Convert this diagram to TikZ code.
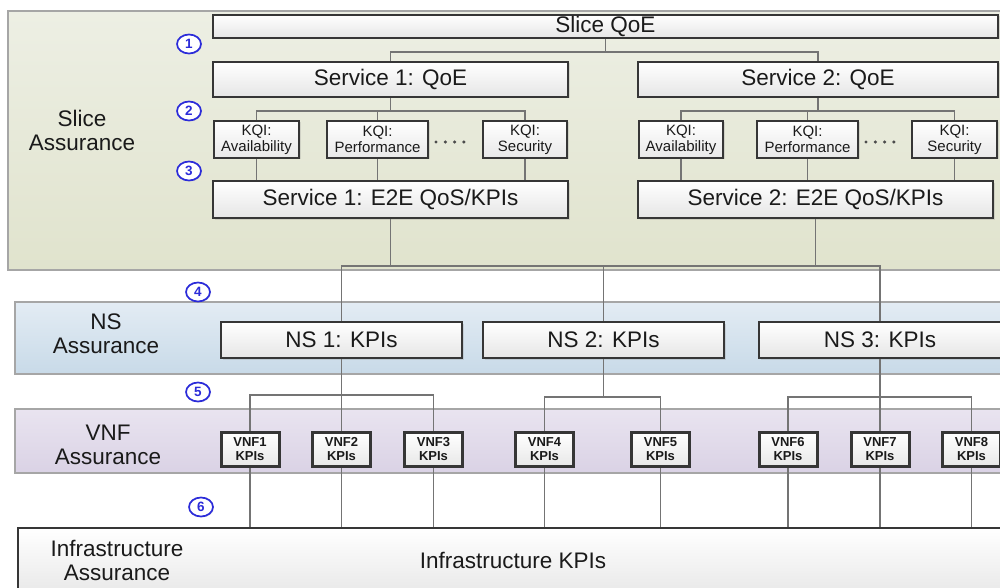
\documentclass[tikz,border=0pt]{standalone}
\usepackage{fontspec}
\setmainfont{Liberation Sans}
\usetikzlibrary{shadows,shapes.geometric}
\definecolor{boxline}{HTML}{363636}
\definecolor{connc}{HTML}{747474}
\definecolor{slicetop}{HTML}{EDEFE4}
\definecolor{slicebot}{HTML}{E0E3CD}
\definecolor{nstop}{HTML}{E3ECF4}
\definecolor{nsbot}{HTML}{C8DAE8}
\definecolor{vnftop}{HTML}{E9E4F0}
\definecolor{vnfbot}{HTML}{DAD2E5}
\definecolor{numblue}{HTML}{2B2BD9}
\definecolor{txt}{HTML}{1A1A1A}
\pgfdeclarelayer{bg}
\pgfdeclarelayer{mid}
\pgfsetlayers{bg,mid,main}
\tikzset{
  shad/.style={drop shadow={opacity=0.22,shadow xshift=1.5pt,shadow yshift=-1.5pt}},
  box/.style={draw=boxline, line width=2.9pt, top color=white, bottom color=black!10,
    inner sep=0pt, text=txt, font=\fontsize{22.5}{24}\selectfont, shad},
  kqi/.style={draw=boxline, line width=2.1pt, top color=white, bottom color=black!9,
    inner sep=0pt, text=txt, align=center, font=\fontsize{15}{16}\selectfont,
    minimum height=37pt, shad},
  vnfbox/.style={draw=boxline, line width=3pt, top color=white, bottom color=black!9,
    inner sep=0pt, text=txt, align=center, font=\bfseries\fontsize{13}{13.5}\selectfont,
    minimum width=58pt, minimum height=34pt, shad},
  panel/.style={draw=black!35, line width=1.6pt},
  conn/.style={draw=connc, line width=1.8pt},
  num/.style={ellipse, draw=numblue, line width=1.7pt, fill=white, inner sep=0pt,
    minimum width=24pt, minimum height=19pt, text=numblue,
    font=\bfseries\fontsize{13.5}{13.5}\selectfont, drop shadow={opacity=0.15,shadow xshift=1pt,shadow yshift=-1pt}},
  lbl/.style={align=center, text=txt, font=\fontsize{22.5}{24}\selectfont},
}
\begin{document}
\begin{tikzpicture}[x=1pt,y=-1pt]
\useasboundingbox (0,0) rectangle (1000,588);

% background and panels
\begin{pgfonlayer}{bg}
\fill[white] (0,0) rectangle (1000,588);
\path[panel, top color=slicetop, bottom color=slicebot] (8,11) rectangle (1012,270);
\path[panel, top color=nstop, bottom color=nsbot] (15,302) rectangle (1012,374);
\path[panel, top color=vnftop, bottom color=vnfbot] (15,409) rectangle (1012,473);
\end{pgfonlayer}

% layer labels
\node[lbl] (lslice) at (82,130) {Slice\\Assurance};
\node[lbl] (lns) at (106,334) {NS\\Assurance};
\node[lbl] (lvnf) at (108,445) {VNF\\Assurance};

% slice level boxes
\node[box, minimum width=785pt, minimum height=23pt] (sq) at (605.5,26.5) {Slice QoE};
\node[box, minimum width=355pt, minimum height=35pt] (s1q) at (390.5,79.5) {Service 1: QoE};
\node[box, minimum width=360pt, minimum height=35pt] (s2q) at (818,79.5) {Service 2: QoE};

\node[kqi, minimum width=85pt] (k1a) at (256.5,139.5) {KQI:\\Availability};
\node[kqi, minimum width=101pt] (k1p) at (377.5,139.5) {KQI:\\Performance};
\node[kqi, minimum width=84pt] (k1s) at (525,139.5) {KQI:\\Security};
\node[kqi, minimum width=84pt] (k2a) at (681,139.5) {KQI:\\Availability};
\node[kqi, minimum width=101pt] (k2p) at (807.5,139.5) {KQI:\\Performance};
\node[kqi, minimum width=85pt] (k2s) at (954.5,139.5) {KQI:\\Security};

\node[box, minimum width=355pt, minimum height=37pt] (e1) at (390.5,199.5) {Service 1: E2E QoS/KPIs};
\node[box, minimum width=355pt, minimum height=37pt] (e2) at (815.5,199.5) {Service 2: E2E QoS/KPIs};

% dots
\foreach \i in {0,...,3} {
  \fill[black!70] (436+9.3*\i,142) circle (1.7);
  \fill[black!70] (866+9.3*\i,142) circle (1.7);
}

% NS boxes
\node[box, minimum width=241pt, minimum height=36pt] (ns1) at (341.5,340) {NS 1: KPIs};
\node[box, minimum width=241pt, minimum height=36pt] (ns2) at (603.5,340) {NS 2: KPIs};
\node[box, minimum width=242pt, minimum height=36pt] (ns3) at (880,340) {NS 3: KPIs};

% VNF boxes
\node[vnfbox] (v1) at (250,449) {VNF1\\KPIs};
\node[vnfbox] (v2) at (341.5,449) {VNF2\\KPIs};
\node[vnfbox] (v3) at (433.5,449) {VNF3\\KPIs};
\node[vnfbox] (v4) at (544.5,449) {VNF4\\KPIs};
\node[vnfbox] (v5) at (660.5,449) {VNF5\\KPIs};
\node[vnfbox] (v6) at (788,449) {VNF6\\KPIs};
\node[vnfbox] (v7) at (880,449) {VNF7\\KPIs};
\node[vnfbox] (v8) at (971.5,449) {VNF8\\KPIs};

% infrastructure
\node[box, minimum width=994pt, minimum height=74pt] (inf) at (515,565) {};
\node[lbl] (linf) at (117,560) {Infrastructure\\Assurance};
\node[lbl] (infk) at (513,560) {Infrastructure KPIs};

% numbers
\node[num] (n1) at (189,44) {1};
\node[num] (n2) at (189,111) {2};
\node[num] (n3) at (189,171) {3};
\node[num] (n4) at (198,292) {4};
\node[num] (n5) at (198,392) {5};
\node[num] (n6) at (201,507) {6};

% connectors
\coordinate (b1) at (0,52);
\coordinate (b2) at (0,111);
\coordinate (b3) at (0,266);
\coordinate (b4) at (0,395);
\coordinate (b5) at (0,397);
\begin{pgfonlayer}{mid}
\draw[conn] (sq.south) -- (sq.south |- b1);
\draw[conn] (s1q.north) |- (s2q.north |- b1) -- (s2q.north);

\draw[conn] (s1q.south) -- (s1q.south |- b2);
\draw[conn] (k1a.north) |- (k1s.north |- b2) -- (k1s.north);
\draw[conn] (k1p.north) -- (k1p.north |- b2);
\draw[conn] (s2q.south) -- (s2q.south |- b2);
\draw[conn] (k2a.north) |- (k2s.north |- b2) -- (k2s.north);
\draw[conn] (k2p.north) -- (k2p.north |- b2);

\foreach \k/\e in {k1a/e1,k1p/e1,k1s/e1,k2a/e2,k2p/e2,k2s/e2}
  \draw[conn] (\k.south) -- (\k.south |- \e.north);

\draw[conn] (e1.south) -- (e1.south |- b3);
\draw[conn] (e2.south) -- (e2.south |- b3);
\draw[conn] (ns1.north) |- (ns3.north |- b3) -- (ns3.north);
\draw[conn] (ns2.north) -- (ns2.north |- b3);

\draw[conn] (ns1.south) -- (v2.north);
\draw[conn] (v1.north) |- (v3.north |- b4) -- (v3.north);
\draw[conn] (ns2.south) -- (ns2.south |- b5);
\draw[conn] (v4.north) |- (v5.north |- b5) -- (v5.north);
\draw[conn] (ns3.south) -- (v7.north);
\draw[conn] (v6.north) |- (v8.north |- b5) -- (v8.north);

\foreach \v in {v1,v2,v3,v4,v5,v6,v7,v8}
  \draw[conn] (\v.south) -- (\v.south |- inf.north);
\end{pgfonlayer}
\end{tikzpicture}
\end{document}
